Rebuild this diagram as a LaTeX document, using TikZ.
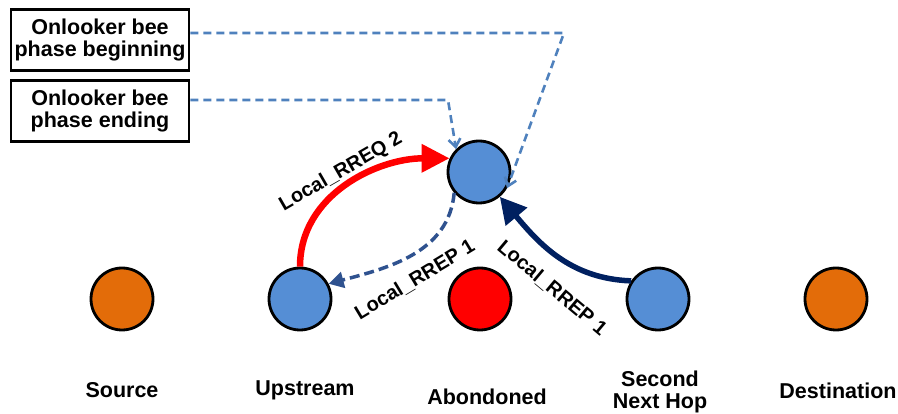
\documentclass[tikz,border=0pt]{standalone}
\usepackage{fontspec}
\setmainfont{Liberation Sans}
\usetikzlibrary{arrows.meta}
\definecolor{nodeblue}{HTML}{558ED5}
\definecolor{nodeorange}{HTML}{E36C09}
\definecolor{dashblue}{HTML}{4F81BD}
\definecolor{darkdash}{HTML}{2F528F}
\definecolor{navyblue}{HTML}{002060}
\begin{document}
\begin{tikzpicture}[x=1pt,y=-1pt,
  netnode/.style={circle, draw=black, line width=2.8pt, minimum size=62pt, inner sep=0pt},
  lbl/.style={font=\fontsize{21.5}{22}\selectfont\bfseries, align=center, inner sep=0pt},
  phasebox/.style={draw=black, line width=2.8pt, minimum width=178pt, minimum height=61pt,
    font=\fontsize{21.5}{22}\selectfont\bfseries, align=center, inner sep=0pt},
  msg/.style={font=\fontsize{20}{20}\selectfont\bfseries, inner sep=0pt},
  phaseline/.style={draw=dashblue, line width=2.6pt, dash pattern=on 8pt off 5pt,
    -{Straight Barb[length=8pt,width=12pt]}}
]
\useasboundingbox (0,0) rectangle (898,414);

% network nodes
\node[netnode, fill=nodeorange] (src) at (122,299) {};
\node[netnode, fill=nodeblue] (up) at (300,299) {};
\node[netnode, fill=red] (ab) at (480,299) {};
\node[netnode, fill=nodeblue] (snh) at (658,299) {};
\node[netnode, fill=nodeorange] (dst) at (836,299) {};
\node[netnode, fill=nodeblue] (top) at (479,172) {};

% bottom labels
\node[lbl] (srcl) at (122,390) {Source};
\node[lbl] (upl) at (305,390) {Upstream};
\node[lbl] (abl) at (487,397) {Abondoned};
\node[lbl] (snhl) at (660,392) {Second\\Next Hop};
\node[lbl] (dstl) at (838,391) {Destination};

% phase boxes
\node[phasebox] (pb) at (100,40) {Onlooker bee\\phase beginning};
\node[phasebox] (pe) at (100,111) {Onlooker bee\\phase ending};

% dashed phase connectors
\coordinate (c1) at (564,33);
\coordinate (c2) at (448,100);
\draw[phaseline] ([yshift=7pt]pb.east) -- (c1) -- (top.-30);
\draw[phaseline] ([yshift=11pt]pe.east) -- (c2) -- (top.135);

% messages
\draw[red, line width=6.5pt, -{Triangle[length=28pt,width=27pt]}]
  (up.north) to[out=90,in=180] (top.155);
\draw[navyblue, line width=5.5pt, -{Triangle[length=26pt,width=27pt]}]
  (snh.146) to[out=178,in=-50] (top.-50);
\draw[darkdash, line width=3.5pt, dash pattern=on 10pt off 5pt, -{Triangle[length=15pt,width=16pt]}]
  (top.-140) to[out=-95,in=15] (up.28);

% message labels
\node[msg, rotate=30] (l1) at (341,172) {Local\_RREQ 2};
\node[msg, rotate=31] (l2) at (415,280) {Local\_RREP 1};
\node[msg, rotate=-40] (l3) at (552,288) {Local\_RREP 1};
\end{tikzpicture}
\end{document}
